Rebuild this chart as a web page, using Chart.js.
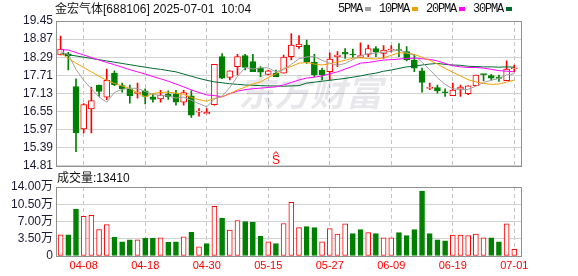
<!DOCTYPE html>
<html>
<head>
<meta charset="utf-8">
<script src="https://cdn.jsdelivr.net/npm/chart.js@4.4.0/dist/chart.umd.min.js"></script>
<style>
  body { margin: 0; background: #fff; }
  #wrap { position: relative; width: 578px; height: 276px; overflow: hidden;
          font-family: "Liberation Sans", "Noto Sans CJK SC", sans-serif; color: #111; }
  canvas { position: absolute; left: 0; }
  #kline { top: 0; }
  #vol { top: 170px; }
  #title { position: absolute; left: 55px; top: 2px; font-size: 12px; line-height: 14px; white-space: pre; }
  #legend { position: absolute; left: 338px; top: 2px; display: flex; align-items: center;
            font: 12px/14px "Liberation Mono", monospace; letter-spacing: -1.2px; }
  #legend .sw { display: inline-block; width: 6px; height: 4px; margin: 0 8px 0 3px; }
  #volLabel { position: absolute; left: 57px; top: 171px; font-size: 12px; line-height: 14px; }
</style>
</head>
<body>
<div id="wrap">
  <canvas id="kline" width="578" height="176"></canvas>
  <canvas id="vol" width="578" height="106"></canvas>
  <div id="title">金宏气体[688106] 2025-07-01  10:04</div>
  <div id="legend"></div>
  <div id="volLabel"></div>
</div>
<script>
const dates = ['04-02','04-03','04-07','04-08','04-09','04-10','04-11','04-14','04-15','04-16',
  '04-17','04-18','04-21','04-22','04-23','04-24','04-25','04-28','04-29','04-30',
  '05-06','05-07','05-08','05-09','05-12','05-13','05-14','05-15','05-16','05-19',
  '05-20','05-21','05-22','05-23','05-26','05-27','05-28','05-29','05-30','06-03',
  '06-04','06-05','06-06','06-09','06-10','06-11','06-12','06-13','06-16','06-17',
  '06-18','06-19','06-20','06-23','06-24','06-25','06-26','06-27','06-30','07-01'];

const openP = [18.36,18.40,17.35,15.99,16.63,17.40,17.01,17.78,17.38,17.28,
  17.13,17.21,17.02,16.95,17.11,17.12,16.85,17.05,16.53,16.47,
  16.77,18.31,17.64,17.99,18.34,18.15,17.94,17.74,17.78,17.78,
  18.31,18.63,18.68,18.13,17.88,17.83,18.31,18.45,18.38,18.28,
  18.38,18.57,18.41,18.52,18.52,18.47,18.20,17.85,17.29,17.32,
  17.17,17.06,17.27,17.12,17.38,17.74,17.70,17.65,17.54,17.92];
const closeP = [18.55,18.33,15.86,16.77,16.90,17.19,17.55,17.40,17.28,17.06,
  17.17,17.03,16.94,17.08,17.02,16.85,17.16,16.43,16.55,16.53,
  18.06,17.62,17.85,18.31,17.96,17.83,17.81,17.85,17.67,18.29,
  18.68,18.71,18.13,17.72,17.73,18.23,18.36,18.39,18.36,18.34,
  18.57,18.45,18.52,18.54,18.50,18.20,17.94,17.48,17.32,17.21,
  17.15,17.24,17.33,17.37,17.72,17.73,17.62,17.61,17.91,17.94];
const highP = [18.97,18.45,17.60,16.80,17.33,17.40,17.91,17.85,17.46,17.40,
  17.46,17.28,17.13,17.23,17.21,17.23,17.23,17.21,16.64,16.64,
  18.06,18.41,17.85,18.38,18.38,18.38,17.99,17.88,17.88,18.36,
  19.05,18.98,18.84,18.38,17.94,18.43,18.47,18.57,18.55,18.75,
  18.68,18.63,18.66,18.66,18.73,18.63,18.38,17.94,17.46,17.40,
  17.28,17.46,17.40,17.37,17.72,17.74,17.74,17.72,18.17,18.04];
const lowP = [18.36,17.88,15.26,15.86,15.86,17.03,16.93,17.38,17.17,16.82,
  16.98,16.79,16.85,16.85,16.94,16.75,16.75,16.36,16.40,16.47,
  16.75,17.60,17.56,17.72,17.88,17.83,17.67,17.72,17.67,17.78,
  18.20,18.57,18.09,17.67,17.56,17.56,17.99,18.25,18.28,18.28,
  18.31,18.31,18.25,18.45,18.31,18.17,17.83,17.17,17.25,17.14,
  17.03,17.06,17.03,17.09,17.38,17.53,17.56,17.51,17.54,17.83];

const volume = [43200,43200,95400,80300,82400,53500,63800,37700,28800,32900,
  32900,35700,35700,37100,27500,28800,39100,48000,18500,25400,
  100900,76900,52800,72100,70000,68600,39800,28800,25400,65900,
  109100,57700,59700,57700,28800,55600,44600,65200,45300,53500,
  47400,45300,37100,37100,47400,41200,53500,131800,45300,32900,
  30900,42600,42600,41200,44600,37100,37100,28800,65200,13410];

const ma5 = [18.47,18.38,17.90,17.55,17.28,17.01,16.85,17.16,17.26,17.30,
  17.29,17.19,17.10,17.06,17.05,16.98,17.01,16.91,16.80,16.70,
  16.95,17.04,17.32,17.67,17.96,17.91,17.95,17.95,17.82,17.89,
  18.06,18.24,18.30,18.31,18.19,18.10,18.03,18.09,18.21,18.34,
  18.40,18.42,18.45,18.48,18.52,18.44,18.34,18.13,17.89,17.63,
  17.42,17.28,17.25,17.26,17.36,17.48,17.55,17.61,17.72,17.76];
const ma10 = [18.42,18.25,18.10,17.96,17.82,17.68,17.55,17.45,17.37,17.29,
  17.15,17.02,17.13,17.16,17.17,17.14,17.10,17.00,16.93,16.88,
  16.97,17.02,17.12,17.24,17.33,17.43,17.50,17.64,17.75,17.93,
  17.99,18.10,18.12,18.07,18.04,18.08,18.14,18.19,18.26,18.27,
  18.25,18.23,18.27,18.35,18.43,18.42,18.38,18.29,18.19,18.07,
  17.93,17.81,17.69,17.57,17.50,17.45,17.42,17.43,17.49,17.56];
const ma20 = [18.53,18.52,18.44,18.36,18.28,18.20,18.12,18.05,17.97,17.89,
  17.82,17.75,17.67,17.60,17.52,17.43,17.34,17.24,17.16,17.08,
  17.06,17.02,17.12,17.20,17.25,17.28,17.30,17.32,17.34,17.40,
  17.48,17.56,17.62,17.65,17.69,17.76,17.82,17.91,18.00,18.10,
  18.12,18.16,18.20,18.21,18.23,18.25,18.26,18.24,18.22,18.17,
  18.09,18.02,17.98,17.96,17.96,17.94,17.90,17.86,17.84,17.82];
const ma30 = [18.41,18.37,18.33,18.29,18.25,18.21,18.17,18.13,18.09,18.05,
  18.01,17.97,17.93,17.90,17.86,17.82,17.75,17.68,17.61,17.55,
  17.50,17.47,17.44,17.42,17.40,17.39,17.38,17.37,17.37,17.36,
  17.37,17.38,17.46,17.49,17.52,17.55,17.58,17.61,17.65,17.69,
  17.74,17.78,17.84,17.88,17.93,17.98,18.00,18.04,18.07,18.09,
  18.06,18.04,18.03,18.00,17.99,17.98,17.98,17.97,17.98,17.97];

const maNames = ['5PMA', '10PMA', '20PMA', '30PMA'];
const maColors = ['#a0a0a0', '#f0a000', '#ff00ff', '#006a30'];
const priceTicks = [19.45, 18.87, 18.29, 17.71, 17.13, 16.55, 15.97, 15.39, 14.81];
const volTicks = [0, 35000, 70000, 105000, 140000];
const dateTickIdx = [3, 11, 19, 27, 35, 43, 51, 59];
const lastVolume = 13410;
const signalIdx = 28;

const RED = '#ff0000', GREEN = '#008000';
const isUp = closeP.map((c, i) => c >= openP[i]);
const volUp = closeP.map((c, i) => i === 0 ? true : c >= closeP[i - 1]);

// legend + volume label
const legend = document.getElementById('legend');
maNames.forEach((n, i) => {
  const t = document.createElement('span'); t.textContent = n; legend.appendChild(t);
  const s = document.createElement('span'); s.className = 'sw'; s.style.background = maColors[i]; legend.appendChild(s);
});
document.getElementById('volLabel').textContent = '成交量:' + lastVolume;

const tickFont = {family: '"Liberation Sans", "Noto Sans CJK SC"', size: 12};

function xScale(showLabels) {
  return {
    type: 'linear', min: -0.6, max: 60, offset: false,
    afterBuildTicks: s => { s.ticks = dateTickIdx.map(v => ({value: v})); },
    afterFit: s => { s.height = showLabels ? 20 : 0; },
    grid: {offset: false, color: '#c4c4c4', drawTicks: false},
    border: {display: false, dash: [4, 3]},
    ticks: {display: showLabels, padding: 3, color: RED, maxRotation: 0, autoSkip: false,
            font: {family: '"Liberation Sans"', size: 11}, callback: v => dates[v]}
  };
}

const frame = {
  id: 'frame',
  afterDraw(chart) {
    const {ctx, chartArea: a} = chart;
    ctx.save();
    ctx.strokeStyle = '#909090';
    ctx.lineWidth = 1;
    ctx.strokeRect(Math.round(a.left) + 0.5, Math.round(a.top) + 0.5,
                   Math.round(a.right - a.left) - 1, Math.round(a.bottom - a.top));
    ctx.restore();
  }
};

const watermark = {
  id: 'watermark',
  beforeDatasetsDraw(chart) {
    const ctx = chart.ctx;
    ctx.save();
    ctx.font = 'italic bold 36px "Noto Sans CJK SC"';
    ctx.fillStyle = 'rgba(0,0,40,0.09)';
    ctx.textBaseline = 'middle';
    ctx.fillText('东方财富', 238, 92);
    ctx.restore();
  }
};

const signal = {
  id: 'signal',
  afterDatasetsDraw(chart) {
    const ctx = chart.ctx;
    const x = chart.scales.x.getPixelForValue(signalIdx);
    ctx.save();
    ctx.fillStyle = RED;
    ctx.strokeStyle = RED;
    ctx.font = '12px "Liberation Sans"';
    ctx.textAlign = 'center';
    ctx.fillText('S', x, 164);
    ctx.beginPath();
    ctx.moveTo(x - 2.5, 154.5); ctx.lineTo(x, 151.5); ctx.lineTo(x + 2.5, 154.5);
    ctx.stroke();
    ctx.restore();
  }
};

const maSeries = [ma5, ma10, ma20, ma30];

new Chart(document.getElementById('kline'), {
  type: 'bar',
  data: {
    datasets: [
      ...maSeries.map((arr, k) => ({
        type: 'line', label: maNames[k], data: arr.map((v, i) => ({x: i, y: v})),
        borderColor: maColors[k], borderWidth: 1, pointRadius: 0, tension: 0, order: 0
      })),
      {
        label: 'body', data: openP.map((o, i) => ({x: i, y: [o, closeP[i]]})),
        backgroundColor: isUp.map(u => u ? '#ffffff' : GREEN),
        borderColor: isUp.map(u => u ? RED : GREEN),
        borderWidth: 1, borderSkipped: false, barThickness: 6, minBarLength: 1,
        grouped: false, order: 1
      },
      {
        label: 'wick', data: lowP.map((l, i) => ({x: i, y: [l, highP[i]]})),
        backgroundColor: isUp.map(u => u ? RED : GREEN),
        borderWidth: 0, barThickness: 1, grouped: false, order: 2
      }
    ]
  },
  options: {
    responsive: false, animation: false, events: [], devicePixelRatio: 1,
    layout: {padding: {top: 21, right: 56, bottom: 10, left: 0}},
    plugins: {legend: {display: false}, tooltip: {enabled: false}},
    scales: {
      x: xScale(false),
      y: {
        min: 14.81, max: 19.45,
        afterBuildTicks: s => { s.ticks = priceTicks.map(v => ({value: v})); },
        afterFit: s => { s.width = 56; },
        grid: {color: '#d2d2d2', drawTicks: false},
        border: {display: false},
        ticks: {padding: 3, color: '#1a1a33', font: tickFont, autoSkip: false, callback: v => v.toFixed(2)}
      }
    }
  },
  plugins: [watermark, signal, frame]
});

new Chart(document.getElementById('vol'), {
  type: 'bar',
  data: {
    datasets: [{
      label: 'volume', data: volume.map((v, i) => ({x: i, y: v})),
      backgroundColor: volUp.map(u => u ? '#ffffff' : GREEN),
      borderColor: volUp.map(u => u ? RED : GREEN),
      borderWidth: 1, borderSkipped: false, barThickness: 5, grouped: false
    }]
  },
  options: {
    responsive: false, animation: false, events: [], devicePixelRatio: 1,
    layout: {padding: {top: 17, right: 56, bottom: 0, left: 0}},
    plugins: {legend: {display: false}, tooltip: {enabled: false}},
    scales: {
      x: xScale(true),
      y: {
        min: 0, max: 140000,
        afterBuildTicks: s => { s.ticks = volTicks.map(v => ({value: v})); },
        afterFit: s => { s.width = 56; },
        grid: {color: '#d2d2d2', drawTicks: false},
        border: {display: false},
        ticks: {padding: 3, color: '#1a1a33', font: tickFont, autoSkip: false,
                callback: v => v === 0 ? '0' : (v / 10000).toFixed(2) + '万'}
      }
    }
  },
  plugins: [frame]
});
</script>
</body>
</html>
